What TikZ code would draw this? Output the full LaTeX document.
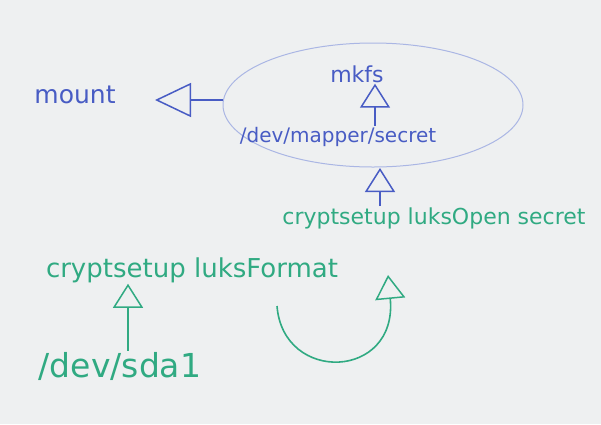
\documentclass[tikz,border=0pt]{standalone}
\usepackage{fontspec}
\setmainfont{DejaVu Sans}
\usetikzlibrary{arrows.meta}
\definecolor{bg}{RGB}{238,240,241}
\definecolor{mblue}{RGB}{72,92,196}
\definecolor{mgreen}{RGB}{48,170,130}
\definecolor{lblue}{RGB}{170,182,228}
\tikzset{
  bluetxt/.style={text=mblue, inner sep=1pt},
  greentxt/.style={text=mgreen, inner sep=1pt},
  openhead/.style={-{Triangle[open,length=24pt,width=30pt,line width=1.5pt]}, line width=1.6pt},
  bighead/.style={-{Triangle[open,length=36pt,width=34pt,line width=1.5pt]}, line width=1.6pt},
}
\begin{document}
\begin{tikzpicture}[x=1pt,y=-1pt]
\fill[bg] (0,0) rectangle (601,424);
\useasboundingbox (0,0) rectangle (601,424);
% ellipse
\draw[lblue, line width=1pt] (373,105) ellipse [x radius=150, y radius=62];
\coordinate (ellL) at (223,100);
\coordinate (ellB) at (380,168);
% blue texts
\node[bluetxt, font=\fontsize{25}{27}\selectfont] (mount) at (75,95) {mount};
\node[bluetxt, font=\fontsize{22}{24}\selectfont] (mkfs) at (357,74) {mkfs};
\node[bluetxt, font=\fontsize{20}{22}\selectfont] (mapper) at (338,137) {/dev/mapper/secret};
% green texts
\node[greentxt, font=\fontsize{22}{24}\selectfont] (open) at (434,218) {cryptsetup luksOpen secret};
\node[greentxt, font=\fontsize{26}{28}\selectfont] (format) at (192,270) {cryptsetup luksFormat};
\node[greentxt, font=\fontsize{33}{35}\selectfont] (sda) at (120,366) {/dev/sda1};
% arrows
\coordinate (mountTip) at (155,100);
\draw[bighead, mblue] (ellL) -- (mountTip);
\draw[openhead, mblue] (mapper.north -| 375,0) -- (mkfs.south -| 375,0);
\draw[openhead, mblue] (open.north -| ellB) -- (ellB);
\draw[openhead, mgreen] (sda.north -| 128,0) -- (format.south -| 128,0);
\coordinate (curveS) at (277,306);
\coordinate (curveE) at (388,275);
\draw[openhead, mgreen] (curveS) .. controls (283,384) and (398,380) .. (curveE);
\end{tikzpicture}
\end{document}
